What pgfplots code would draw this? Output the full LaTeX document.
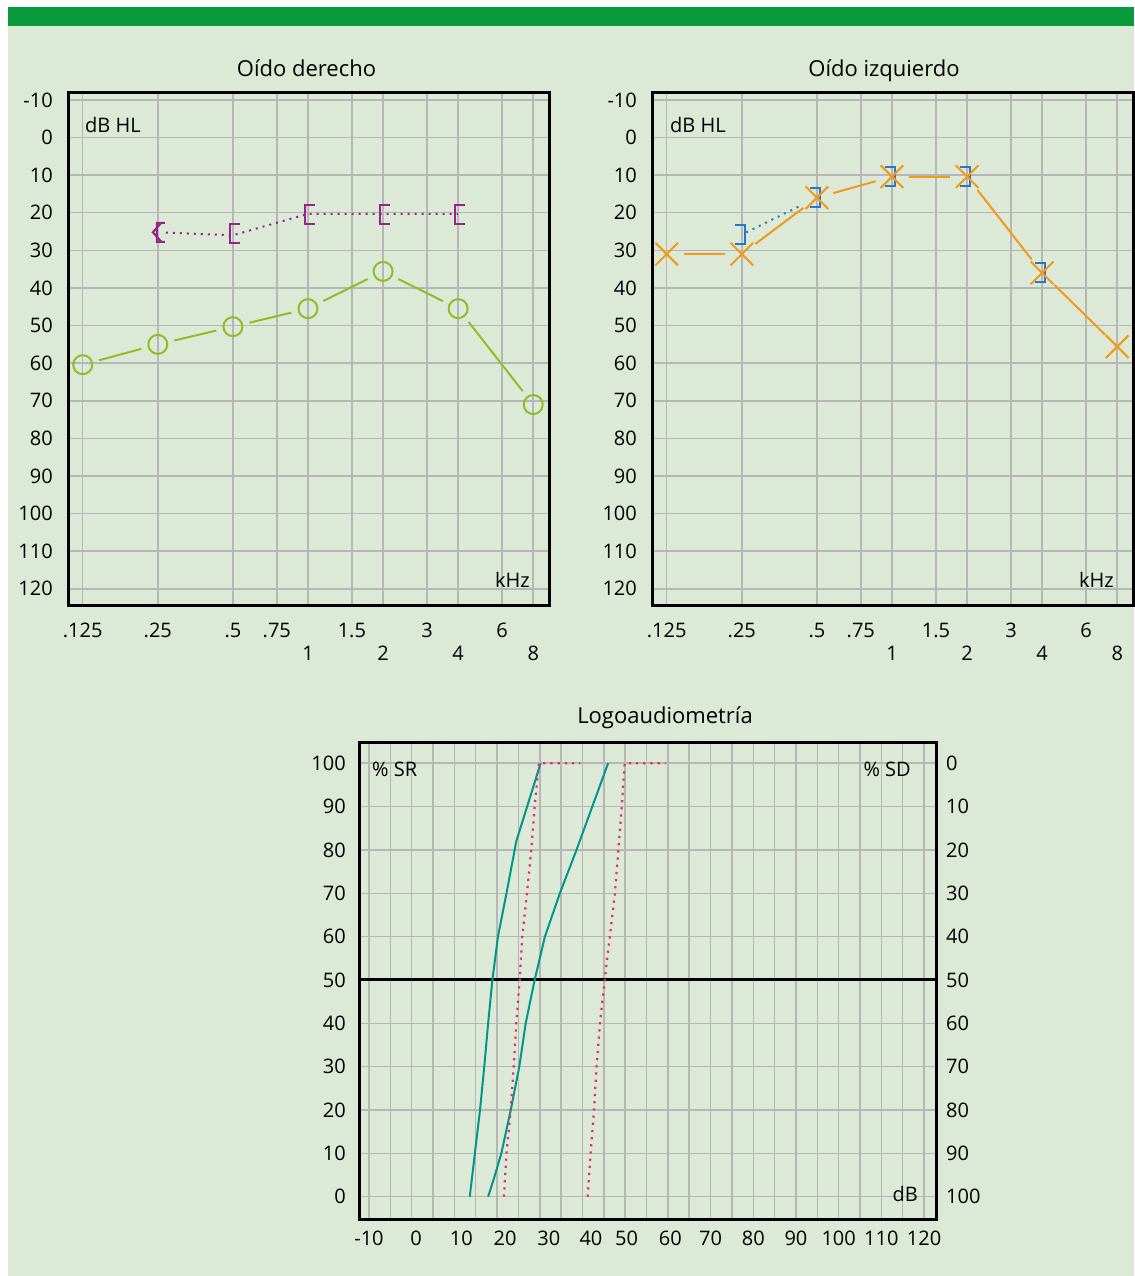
\documentclass[border=0pt]{standalone}
\usepackage{pgfplots}
\pgfplotsset{compat=1.18}
\usepackage{fontspec}
\setmainfont{Open Sans}

\definecolor{bgg}{RGB}{221,233,215}
\definecolor{barg}{RGB}{9,154,60}
\definecolor{gridc}{RGB}{182,182,182}
\definecolor{acr}{RGB}{145,188,40}
\definecolor{bcr}{RGB}{150,35,140}
\definecolor{acl}{RGB}{243,152,25}
\definecolor{bcl}{RGB}{40,120,195}
\definecolor{tealc}{RGB}{0,150,140}
\definecolor{pinkc}{RGB}{232,40,110}

\pgfdeclareplotmark{lbr}{%
  \pgfpathmoveto{\pgfqpoint{7pt}{9.5pt}}%
  \pgfpathlineto{\pgfqpoint{-3pt}{9.5pt}}%
  \pgfpathlineto{\pgfqpoint{-3pt}{-9.5pt}}%
  \pgfpathlineto{\pgfqpoint{7pt}{-9.5pt}}%
  \pgfusepathqstroke}
\pgfdeclareplotmark{rbr}{%
  \pgfpathmoveto{\pgfqpoint{-7pt}{9.5pt}}%
  \pgfpathlineto{\pgfqpoint{3pt}{9.5pt}}%
  \pgfpathlineto{\pgfqpoint{3pt}{-9.5pt}}%
  \pgfpathlineto{\pgfqpoint{-7pt}{-9.5pt}}%
  \pgfusepathqstroke}
\pgfdeclareplotmark{lbrlt}{%
  \pgfpathmoveto{\pgfqpoint{7pt}{9.5pt}}%
  \pgfpathlineto{\pgfqpoint{-1pt}{9.5pt}}%
  \pgfpathlineto{\pgfqpoint{-1pt}{-9.5pt}}%
  \pgfpathlineto{\pgfqpoint{7pt}{-9.5pt}}%
  \pgfpathmoveto{\pgfqpoint{4pt}{10pt}}%
  \pgfpathlineto{\pgfqpoint{-5pt}{0pt}}%
  \pgfpathlineto{\pgfqpoint{4pt}{-10pt}}%
  \pgfusepathqstroke}

\newcommand{\seg}[5]{\addplot[#1, line width=2pt, mark=none, shorten <=17pt, shorten >=17pt] coordinates {(#2,#3) (#4,#5)};}
\newcommand{\sh}[2]{\hspace*{#1}#2}

\pgfplotsset{
  common/.style={
    scale only axis,
    major tick length=0pt, minor tick length=0pt,
    axis line style={line width=3pt, black},
    tick label style={font=\fontsize{20}{24}\selectfont, inner sep=0pt},
    grid style={gridc, line width=1.5pt},
  },
  audio/.style={common,
    width=481pt, height=513pt,
    xmin=-3.196, xmax=3.21, ymin=-12.1, ymax=124.3, y dir=reverse,
    xtick={-3,-2,-1,-0.41504,0,0.58496,1,1.58496,2,2.58496,3},
    xticklabels={.125,.25,.5,.75,\raisebox{-23pt}{1},1.5,\raisebox{-23pt}{2},3,\raisebox{-23pt}{4},6,\raisebox{-23pt}{8}},
    ytick={-10,0,10,20,30,40,50,60,70,80,90,100,110,120},
    yticklabels={-10,0,10,20,30,40,50,60,70,80,90,100,110,120},
    xmajorgrids, ymajorgrids,
    xticklabel style={anchor=base, yshift=-32pt},
    yticklabel style={anchor=east, xshift=-15pt},
  },
}

\begin{document}
\begin{tikzpicture}
\begin{scope}[x=1pt,y=-1pt]
\useasboundingbox (0,0) rectangle (1134,1276);
\fill[white] (0,0) rectangle (1134,1276);
\fill[bgg] (8,26) rectangle (1134,1276);
\fill[barg] (8,7) rectangle (1134,26);
\end{scope}

% ---------------- Right ear ----------------
\begin{axis}[audio, at={(68pt,-605pt)}, anchor=south west]
\addplot[bcr, line width=2pt, dash pattern=on 2pt off 5pt, shorten <=8pt, mark=none]
  coordinates {(-2,25.2) (-1,26) (0,20.3) (1,20.3) (2,20.3)};
\addplot[bcr, only marks, mark=lbrlt, line width=2pt] coordinates {(-2,25.2)};
\addplot[bcr, only marks, mark=lbr, line width=2pt] coordinates {(-1,25.6) (0,20.5) (1,20.5) (2,20.5)};
\seg{acr}{-3}{60.4}{-2}{55}
\seg{acr}{-2}{55}{-1}{50.3}
\seg{acr}{-1}{50.3}{0}{45.5}
\seg{acr}{0}{45.5}{1}{35.6}
\seg{acr}{1}{35.6}{2}{45.5}
\seg{acr}{2}{45.5}{3}{71}
\addplot[acr, only marks, mark=o, mark size=9.5pt, line width=2pt]
  coordinates {(-3,60.4) (-2,55) (-1,50.3) (0,45.5) (1,35.6) (2,45.5) (3,71)};
\end{axis}

% ---------------- Left ear ----------------
\begin{axis}[audio, at={(652pt,-605pt)}, anchor=south west]
\addplot[bcl, line width=2pt, dash pattern=on 2pt off 5pt, shorten <=5pt, shorten >=18pt, mark=none]
  coordinates {(-2,25.8) (-1,16)};
\addplot[bcl, only marks, mark=rbr, line width=2pt]
  coordinates {(-2,25.8) (-1,16) (0,10.4) (1,10.4) (2,35.8)};
\seg{acl}{-3}{31}{-2}{31}
\seg{acl}{-2}{31}{-1}{16}
\seg{acl}{-1}{16}{0}{10.4}
\seg{acl}{0}{10.4}{1}{10.4}
\seg{acl}{1}{10.4}{2}{36}
\seg{acl}{2}{36}{3}{55.6}
\addplot[acl, only marks, mark=x, mark size=16pt, line width=2pt]
  coordinates {(-3,31) (-2,31) (-1,16) (0,10.4) (1,10.4) (2,36) (3,55.6)};
\end{axis}

% ---------------- Logoaudiometria ----------------
\begin{axis}[common, at={(359pt,-1219pt)}, anchor=south west, width=577pt, height=477pt,
  xmin=-12.34, xmax=122.8, ymin=-5.15, ymax=104.9,
  xtick={-10,0,10,...,120},
  xticklabels={-10,\sh{9pt}{0},\sh{14pt}{10},\sh{16pt}{20},\sh{18pt}{30},\sh{17pt}{40},\sh{3pt}{50},\sh{5pt}{60},70,80,90,100,110,120},
  minor xtick={-5,5,...,115},
  ytick={0,10,...,100},
  yticklabels={0,10,20,30,40,50,60,70,80,90,100},
  grid=both,
  xticklabel style={anchor=base, yshift=-26pt},
  yticklabel style={anchor=east, xshift=-13pt},
]
\addplot[black, line width=3pt, mark=none] coordinates {(-12.34,50) (122.8,50)};
\addplot[tealc, line width=2pt, mark=none] coordinates {
  (13.6,0) (14.8,10) (16,20) (17,30) (17.9,40) (18.9,50) (20.2,60) (22.2,70) (24.5,82) (30.2,100)};
\addplot[tealc, line width=2pt, mark=none] coordinates {
  (17.9,0) (19.2,4) (21,10) (23.2,20) (25.2,30) (26.7,40) (28.8,50) (31.2,60) (34.7,70) (38.6,80) (42.3,90) (46,100)};
\addplot[pinkc, line width=2.2pt, dash pattern=on 2.2pt off 5pt, mark=none] coordinates {
  (21.6,0) (22.2,10) (23.2,20) (23.9,30) (24.5,40) (25.3,50) (25.9,60) (27,70) (28,80) (28.8,90) (29.8,100) (39.5,100)};
\addplot[pinkc, line width=2.2pt, dash pattern=on 2.2pt off 5pt, mark=none] coordinates {
  (41.2,0) (41.9,10) (42.7,20) (43.3,30) (44.1,40) (45.2,50) (46.4,60) (47.6,70) (48.4,80) (49.2,90) (49.9,100) (59.5,100)};
\end{axis}
\begin{axis}[common, at={(359pt,-1219pt)}, anchor=south west, width=577pt, height=477pt,
  xmin=-12.34, xmax=122.8, ymin=-5.15, ymax=104.9,
  hide x axis, axis y line*=right, y axis line style={draw=none},
  ytick={0,10,...,100}, yticklabels={100,90,80,70,60,50,40,30,20,10,0},
  yticklabel style={anchor=west, xshift=10pt},
]
\end{axis}

\begin{scope}[x=1pt,y=-1pt]
\node[anchor=base, font=\fontsize{22}{26}\selectfont] at (306.5,77) {Oído derecho};
\node[anchor=base, font=\fontsize{22}{26}\selectfont] at (884,77) {Oído izquierdo};
\node[anchor=base, font=\fontsize{22}{26}\selectfont] at (665,723) {Logoaudiometría};
\node[anchor=base west, inner sep=0pt, font=\fontsize{20}{24}\selectfont] at (85,133) {dB HL};
\node[anchor=base west, inner sep=0pt, font=\fontsize{20}{24}\selectfont] at (670,133) {dB HL};
\node[anchor=base east, inner sep=0pt, font=\fontsize{20}{24}\selectfont] at (530,587) {kHz};
\node[anchor=base east, inner sep=0pt, font=\fontsize{20}{24}\selectfont] at (1114,587) {kHz};
\node[anchor=base west, inner sep=0pt, font=\fontsize{20}{24}\selectfont] at (372,776) {\% SR};
\node[anchor=base east, inner sep=0pt, font=\fontsize{20}{24}\selectfont] at (911,776) {\% SD};
\node[anchor=base east, inner sep=0pt, font=\fontsize{20}{24}\selectfont] at (918,1201) {dB};
\end{scope}
\end{tikzpicture}
\end{document}
